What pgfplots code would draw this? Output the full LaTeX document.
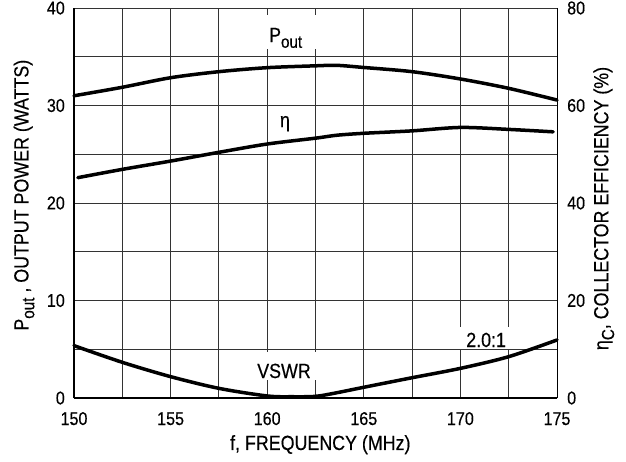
\documentclass[border=0pt]{standalone}
\usepackage{fontspec}
\setmainfont{Liberation Sans}[FakeStretch=0.87, FakeBold=0.35]
\usepackage{pgfplots}
\usepackage{pgfplotstable}
\pgfplotsset{compat=1.18}

\newcommand\lab{\fontsize{20.5}{22}\selectfont}
\newcommand\tck{\fontsize{18.5}{20}\selectfont}
\newcommand\sub[1]{\raisebox{-0.28em}{\fontsize{17.5}{17.5}\selectfont #1}}

% output power (W)
\pgfplotstableread{
f     P
150.0 31.00
152.5 31.87
155.0 32.85
157.5 33.47
160.0 33.88
162.5 34.07
163.6 34.12
165.0 33.90
167.5 33.47
170.0 32.72
172.5 31.76
175.0 30.56
}\pout

% collector efficiency (%)
\pgfplotstableread{
f     eta
150.2 45.2
152.5 46.9
155.0 48.6
157.5 50.4
160.0 52.1
162.5 53.3
163.6 53.9
165.0 54.3
167.5 54.8
170.0 55.5
172.5 55.1
174.8 54.6
}\eff

% VSWR curve, drawn on the power scale
\pgfplotstableread{
f     v
150.0 5.37
152.5 3.66
155.0 2.19
157.5 0.99
160.0 0.21
161.3 0.13
162.5 0.17
163.5 0.50
165.0 1.10
167.5 2.08
170.0 3.04
172.5 4.24
175.0 5.95
}\vswr

\begin{document}
\begin{tikzpicture}
\begin{axis}[
  name=main,
  scale only axis, width=483pt, height=390pt,
  xmin=150, xmax=175, ymin=0, ymax=40,
  xtick={150,155,...,175}, ytick={0,10,...,40},
  minor xtick={152.5,157.5,...,172.5}, minor ytick={5,15,...,35},
  grid=both,
  major grid style={black!80, line width=0.9pt},
  minor grid style={black!80, line width=0.9pt},
  major tick length=0pt, minor tick length=0pt,
  axis x line*=bottom, axis y line*=left,
  axis line style={line width=2pt},
  /pgf/number format/assume math mode=true,
  tick label style={font=\tck},
  xticklabel style={anchor=base, yshift=-27pt, inner sep=0pt},
  yticklabel style={anchor=east, inner sep=0pt, xshift=-9pt},
  xlabel={f, FREQUENCY (MHz)},
  ylabel={P\sub{out} , OUTPUT POWER (WATTS)},
  label style={font=\lab},
  xlabel style={at={(axis description cs:0.51,-0.1333)}, anchor=base},
  ylabel style={at={(axis description cs:-0.1035,0.52)}, anchor=center},
  clip=false,
]
\addplot[black, line width=3.5pt, smooth, tension=0.5, line cap=round] table[x=f, y=P] {\pout};
\addplot[black, line width=3.5pt, smooth, tension=0.5, line cap=round] table[x=f, y=v] {\vswr};

\node[fill=white, inner sep=0pt, minimum width=52pt, minimum height=34pt] at (axis cs:161.18,37.54) {};
\node[anchor=base west, inner sep=0pt, font=\lab] at (axis cs:160.09,36.51) {P\sub{out}};
\node[anchor=base, inner sep=0pt, font=\lab] at (axis cs:160.92,27.79) {η};
\node[fill=white, inner sep=0pt, minimum width=62pt, minimum height=28pt] at (axis cs:160.92,3.28) {};
\node[anchor=base, inner sep=0pt, font=\lab] at (axis cs:160.87,2.05) {VSWR};
\node[fill=white, inner sep=0pt, minimum width=57pt, minimum height=22pt] at (axis cs:171.19,6.15) {};
\node[anchor=base, inner sep=0pt, font=\lab] at (axis cs:171.33,5.23) {2.0:1};
\end{axis}

\begin{axis}[
  scale only axis, width=483pt, height=390pt,
  xmin=150, xmax=175, ymin=0, ymax=80,
  hide x axis,
  axis y line*=right,
  axis line style={line width=0.9pt},
  ytick={0,20,...,80},
  major tick length=0pt,
  /pgf/number format/assume math mode=true,
  tick label style={font=\tck},
  yticklabel style={anchor=west, inner sep=0pt, xshift=10pt},
  ylabel={η\sub{C}, COLLECTOR EFFICIENCY (\%)},
  label style={font=\lab},
  ylabel style={at={(axis description cs:1.097,0.486)}, anchor=center},
  clip=false,
]
\addplot[black, line width=3.5pt, smooth, tension=0.5, line cap=round] table[x=f, y=eta] {\eff};
\end{axis}

\path (main.south west) ++(-74pt,-63pt) rectangle ++(626pt,461pt);
\end{tikzpicture}
\end{document}
